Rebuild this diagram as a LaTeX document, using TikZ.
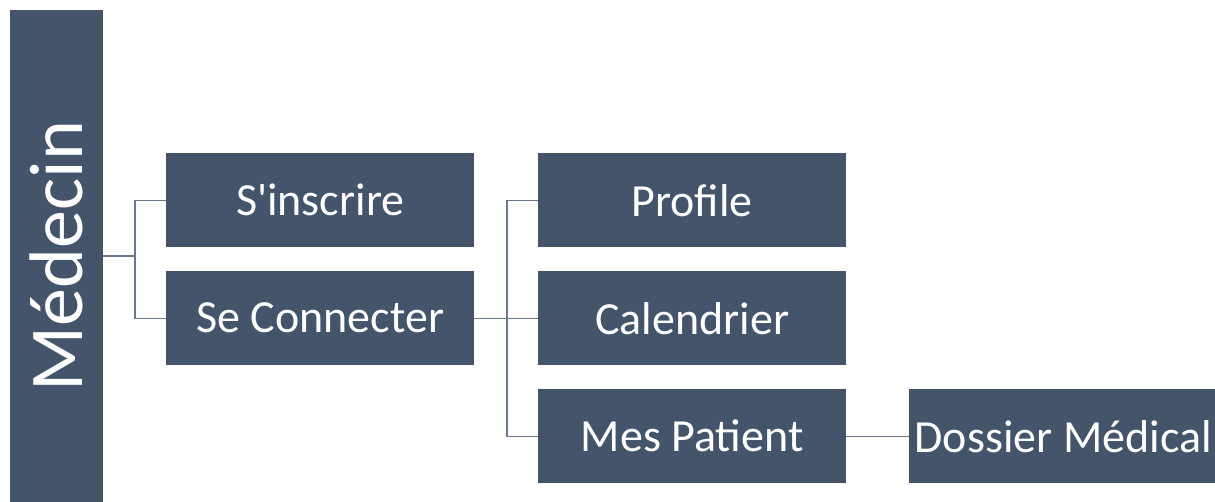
\documentclass[tikz,border=0pt]{standalone}
\usepackage{fontspec}
\setmainfont{Carlito}[Ligatures=TeXOff]
\definecolor{boxblue}{HTML}{44546A}
\definecolor{linegray}{HTML}{6A7990}
\begin{document}
\begin{tikzpicture}[x=1pt,y=-1pt,
  box/.style={fill=boxblue, text=white, inner sep=0pt, anchor=north west,
    minimum width=308pt, minimum height=94pt,
    font=\fontsize{46}{46}\selectfont},
  link/.style={draw=linegray, line width=1.1pt}]
\useasboundingbox (0,0) rectangle (1215,502);

% root bar with rotated title
\node[fill=boxblue, text=white, rotate=90, inner sep=0pt,
  minimum width=492pt, minimum height=93pt,
  font=\fontsize{76}{76}\selectfont] (med) at (56.5,256) {Médecin};

% first level
\node[box] (sins) at (166,153) {S'inscrire};
\node[box] (scon) at (166,271) {Se Connecter};

% second level
\node[box] (prof) at (538,153) {Profile};
\node[box] (cal)  at (538,271) {Calendrier};
\node[box] (pat)  at (538,389) {Mes Patient};

% third level
\node[box] (dos) at (909,389) {Dossier Médical};

% junctions
\coordinate (j1) at (135,258);
\coordinate (j2) at (507,318);

% connectors
\draw[link] (med.south) -- (med.south -| j1);
\draw[link] (sins.west) -| (j1) |- (scon.west);
\draw[link] (scon.east) -- (cal.west);
\draw[link] (prof.west) -| (j2) |- (pat.west);
\draw[link] (pat.east) -- (dos.west);
\end{tikzpicture}
\end{document}
